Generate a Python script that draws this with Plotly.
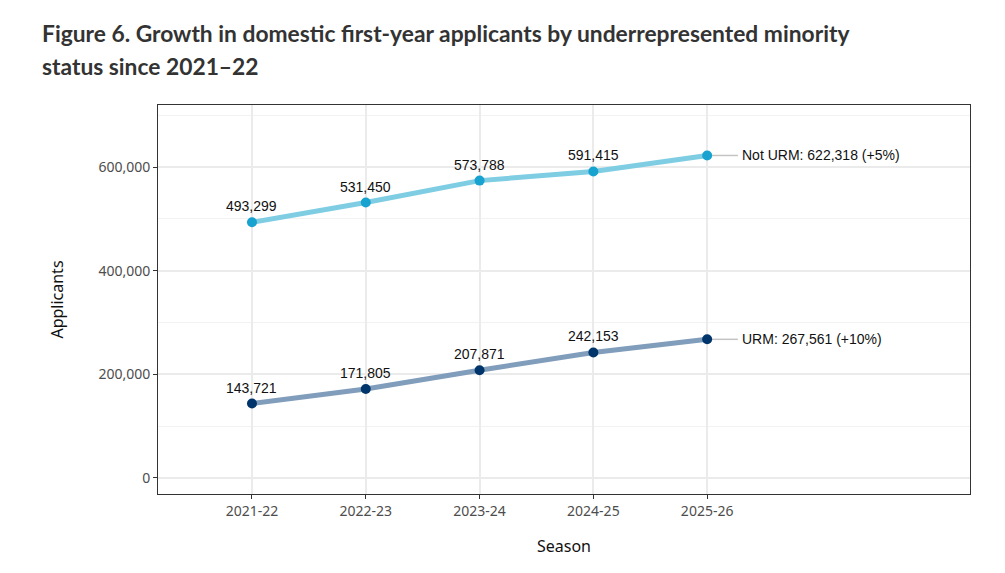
import plotly.graph_objects as go

seasons = ["2021-22", "2022-23", "2023-24", "2024-25", "2025-26"]
not_urm = [493299, 531450, 573788, 591415, 622318]
urm = [143721, 171805, 207871, 242153, 267561]
end_labels = ["Not URM: 622,318 (+5%)", "URM: 267,561 (+10%)"]
y_ticks = [0, 200000, 400000, 600000]
y_tick_text = ["0", "200,000", "400,000", "600,000"]
title_lines = ["Figure 6. Growth in domestic first-year applicants by underrepresented minority",
               "status since 2021\u201322"]

xi = list(range(len(seasons)))
fig = go.Figure()

series = [
    (not_urm, "#7ecde3", "#17a2cf"),
    (urm, "#809dbb", "#00356b"),
]
for (vals, lc, mc), lab in zip(series, end_labels):
    fig.add_trace(go.Scatter(x=[xi[-1], xi[-1] + 0.27], y=[vals[-1], vals[-1]], mode="lines",
                             line=dict(color="#c4c4c4", width=1.5), hoverinfo="skip", showlegend=False))
    fig.add_trace(go.Scatter(x=xi, y=vals, mode="lines", line=dict(color=lc, width=5),
                             showlegend=False))
    fig.add_trace(go.Scatter(x=xi, y=vals, mode="markers",
                             marker=dict(color=mc, size=10), showlegend=False))
    for x, v in zip(xi[:-1], vals[:-1]):
        fig.add_annotation(x=x, y=v, text=f"{v:,}", showarrow=False, yshift=16,
                           font=dict(family="Liberation Sans", size=14, color="#111"))
    fig.add_annotation(x=xi[-1] + 0.29, y=vals[-1], text=lab, showarrow=False, xanchor="left",
                       font=dict(family="Liberation Sans", size=14, color="#111"))

for i, t in enumerate(title_lines):
    fig.add_annotation(text=f"<b>{t}</b>", xref="paper", yref="paper", x=-118/812, y=1 + (72 - 33 * i) / 389,
                       xanchor="left", yanchor="middle", showarrow=False,
                       font=dict(family="Lato", size=22.8, color="#333333"))

fig.update_layout(
    width=1005, height=573,
    margin=dict(l=150, r=43, t=97, b=87, autoexpand=False),
    paper_bgcolor="white", plot_bgcolor="white",
    font=dict(family="Liberation Sans"),
)
fig.update_xaxes(range=[-0.826, 6.31], tickvals=xi, ticktext=seasons, automargin=False,
                 showgrid=True, gridcolor="#ebebeb", gridwidth=1.5,
                 ticks="outside", ticklen=4, tickcolor="#333", zeroline=False,
                 showline=True, linecolor="#333", linewidth=1, mirror=True,
                 tickfont=dict(family="Noto Sans", size=14, color="#4d4d4d"),
                 title=dict(text="Season", font=dict(family="Noto Sans", size=16, color="#111"), standoff=22))
fig.update_yaxes(range=[-30900, 719700], tickvals=y_ticks, ticktext=y_tick_text, automargin=False,
                 showgrid=True, gridcolor="#ebebeb", gridwidth=1.5,
                 minor=dict(tickvals=[100000, 300000, 500000, 700000], showgrid=True,
                            gridcolor="#f2f2f2", gridwidth=1, ticks=""),
                 ticks="outside", ticklen=4, tickcolor="#333", zeroline=False,
                 showline=True, linecolor="#333", linewidth=1, mirror=True,
                 tickfont=dict(family="Noto Sans", size=14, color="#4d4d4d"),
                 title=dict(text="Applicants", font=dict(family="Noto Sans", size=16, color="#111"), standoff=30))

fig.write_html("out.html")
